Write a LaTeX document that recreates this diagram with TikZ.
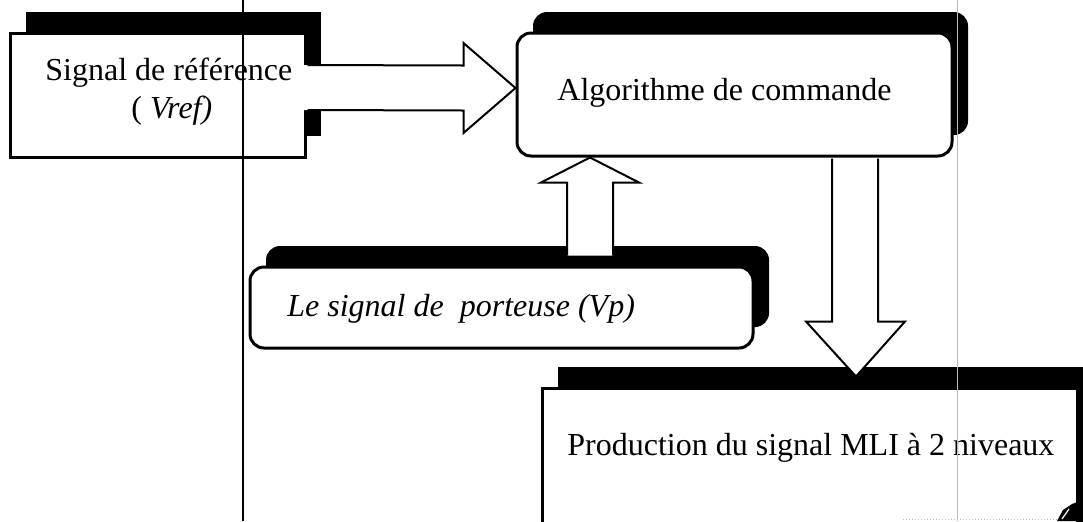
\documentclass[tikz,border=0pt]{standalone}
\usepackage{fontspec}
\setmainfont{Liberation Serif}
\usetikzlibrary{shadows,calc}

\tikzset{
  % framed box with a solid black drop shadow up and to the right
  sqbox/.style={draw, line width=1.5pt, fill=white, inner sep=0pt,
    general shadow={fill=black, shadow xshift=8pt, shadow yshift=10.5pt}},
  rbox/.style={sqbox, rounded corners=7pt},
  txt/.style={inner sep=0pt, anchor=base west, font=\fontsize{16}{19}\selectfont},
  % hollow block arrows
  arrowfill/.style={fill=white},
  arrowline/.style={draw, line width=1pt, line join=miter},
  rule/.style={line width=0.75pt, black},
  faint/.style={line width=0.5pt, gray!55}
}

\begin{document}
\begin{tikzpicture}[x=0.5pt, y=-0.5pt]
\useasboundingbox (0,0) rectangle (1083,521);
\clip (0,0) rectangle (1083,521);
\fill[white] (0,0) rectangle (1083,521);

% boxes
\node[sqbox, minimum width=147.5pt, minimum height=62pt] (ref) at (157.5,95) {};
\node[rbox, minimum width=217.5pt, minimum height=61.5pt] (algo) at (734.5,94.5) {};
\node[rbox, minimum width=251.5pt, minimum height=40.5pt] (porteuse) at (501.5,307.5) {};
\node[sqbox, minimum width=267.5pt, minimum height=86pt] (prod) at (809.5,474) {};

% folded corner of the lower box
\fill[black] (1057,521) -- (1063,510) -- (1072,504) -- (1083,500) -- (1083,521) -- cycle;
\draw[white, line width=0.6pt] (1062,519) -- (1069,509);

% labels
\node[txt] (refA) at (45,80) {Signal de référence};
\node[txt] (refB) at (131,118) {( \textit{Vref)}};
\node[txt] (algoT) at (557,100) {Algorithme de commande};
\node[txt, font=\fontsize{16}{19}\selectfont\itshape] (portT) at (287,316) {Le signal de\ \ porteuse (Vp)};
\node[txt] (prodT) at (567,455) {Production du signal MLI à 2 niveaux};

% block arrow: reference -> algorithm
\coordinate (raS) at (ref.east |- 0,87.5);
\coordinate (raT) at (algo.west |- 0,88);
\fill[arrowfill] ($(raS)+(-3,-22.5)$) -- ($(raT)+(-52,-22.5)$) -- ($(raT)+(-52,-45)$)
  -- (raT) -- ($(raT)+(-52,45)$) -- ($(raT)+(-52,22.5)$) -- ($(raS)+(-3,22.5)$) -- cycle;
\draw[arrowline] ($(raS)+(1,-22.5)$) -- ($(raT)+(-52,-22.5)$) -- ($(raT)+(-52,-45)$)
  -- (raT) -- ($(raT)+(-52,45)$) -- ($(raT)+(-52,22.5)$) -- ($(raS)+(1,22.5)$);

% block arrow: carrier -> algorithm
\coordinate (uaT) at (590,0 |- algo.south);
\coordinate (uaS) at (590,0 |- porteuse.north);
\fill[arrowfill] ($(uaS)+(-23,-10)$) -- ($(uaT)+(-23,25)$) -- ($(uaT)+(-49,25)$)
  -- (uaT) -- ($(uaT)+(49,25)$) -- ($(uaT)+(23,25)$) -- ($(uaS)+(23,-10)$) -- cycle;
\draw[arrowline] ($(uaS)+(-23,-10)$) -- ($(uaT)+(-23,25)$) -- ($(uaT)+(-49,25)$)
  -- (uaT) -- ($(uaT)+(49,25)$) -- ($(uaT)+(23,25)$) -- ($(uaS)+(23,-10)$);

% block arrow: algorithm -> PWM generation
\coordinate (daS) at (855,0 |- algo.south);
\coordinate (daT) at (856,0 |- prod.north);
\fill[arrowfill] ($(daS)+(-23,1)$) -- ($(daT)+(-24,-65)$) -- ($(daT)+(-50,-65)$)
  -- ($(daT)+(0,-10)$) -- ($(daT)+(49,-65)$) -- ($(daT)+(22,-65)$) -- ($(daS)+(23,1)$) -- cycle;
\draw[arrowline] ($(daS)+(-23,1)$) -- ($(daT)+(-24,-65)$) -- ($(daT)+(-50,-65)$)
  -- ($(daT)+(0,-10)$) -- ($(daT)+(49,-65)$) -- ($(daT)+(22,-65)$) -- ($(daS)+(23,1)$);

% page rules
\coordinate (ruleTop) at (243,0);
\coordinate (ruleBot) at (243,521);
\draw[rule] (ruleTop) -- (ruleBot);
\coordinate (marginTop) at (957,0);
\coordinate (marginBot) at (957,521);
\draw[faint] (marginTop) -- (marginBot);
\coordinate (edgeL) at (903,519);
\coordinate (edgeR) at (1058,519);
\draw[faint, densely dotted] (edgeL) -- (edgeR);
\end{tikzpicture}
\end{document}
